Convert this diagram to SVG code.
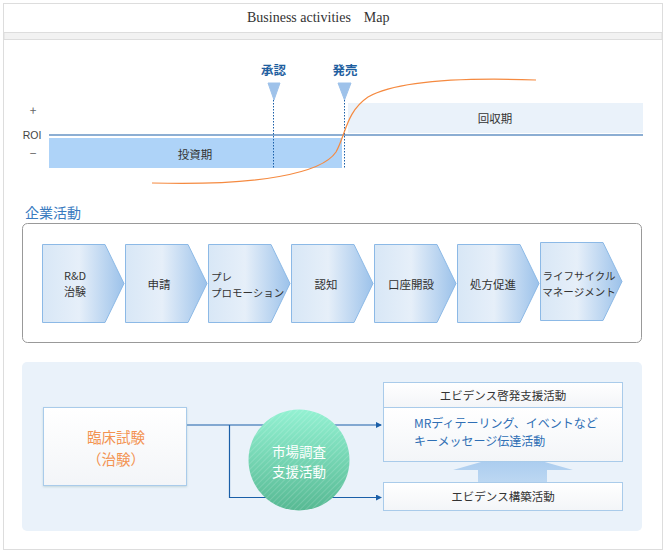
<svg xmlns="http://www.w3.org/2000/svg" width="667" height="554" viewBox="0 0 667 554">
<style>
.jp{font-family:"Noto Sans CJK JP","Noto Sans",sans-serif}
.lbl{font-size:11.5px;fill:#333}
.sm{font-size:10.5px;fill:#333}
.chev{stroke:#8cb9e6;stroke-width:1;fill:url(#chevGrad)}
.box{fill:url(#boxGrad);stroke:#a9cbea;stroke-width:1}
.conn{stroke:#1a5fa8;stroke-width:1.2;fill:none}
.dot{stroke:#1a5fa8;stroke-width:1;stroke-dasharray:1.5 1.5}
.tri{fill:#9ec2ea;stroke:#9ec2ea}
.ms{font-size:12.5px;font-weight:bold;fill:#1f5fa0}
</style>
<defs>
<linearGradient id="chevGrad" x1="0" y1="0" x2="1" y2="0">
<stop offset="0" stop-color="#d8e7f6"/>
<stop offset="0.45" stop-color="#e6eff9"/>
<stop offset="1" stop-color="#9cc2ea"/>
</linearGradient>
<linearGradient id="boxGrad" x1="0" y1="0" x2="0" y2="1">
<stop offset="0" stop-color="#ffffff"/>
<stop offset="1" stop-color="#f3f5f8"/>
</linearGradient>
<linearGradient id="circGrad" x1="0" y1="0" x2="0" y2="1">
<stop offset="0" stop-color="#93f1d2"/>
<stop offset="1" stop-color="#57b993"/>
</linearGradient>
<linearGradient id="upGrad" x1="0" y1="0" x2="0" y2="1">
<stop offset="0" stop-color="#a5c9ee"/>
<stop offset="1" stop-color="#bcd7f2"/>
</linearGradient>
<pattern id="hatch" width="4" height="4" patternUnits="userSpaceOnUse" patternTransform="rotate(45)">
<line x1="0" y1="0" x2="0" y2="4" stroke="#ffffff" stroke-opacity="0.25" stroke-width="1.2"/>
</pattern>
<filter id="shadow" x="-10%" y="-10%" width="120%" height="130%">
<feDropShadow dx="0" dy="1" stdDeviation="1.2" flood-color="#8aa" flood-opacity="0.4"/>
</filter>
<marker id="arr" markerWidth="6" markerHeight="6" refX="5" refY="3" orient="auto" markerUnits="userSpaceOnUse">
<path d="M0,0 L6,3 L0,6 Z" fill="#1a5fa8"/>
</marker>
</defs>

<!-- frame -->
<rect x="0" y="0" width="667" height="554" fill="#ffffff"/>
<rect x="3.5" y="3.5" width="659" height="546" fill="#ffffff" stroke="#dddddd"/>
<rect x="4" y="32.5" width="658" height="7" fill="#f2f2f2" stroke="#dddddd"/>
<text x="247" y="22" font-family="Liberation Serif,serif" font-size="14" fill="#333">Business activities<tspan dx="13">Map</tspan></text>

<!-- ROI chart -->
<g id="chart">
<text x="33" y="115" class="jp" font-size="12" fill="#666" text-anchor="middle">+</text>
<text x="32" y="139" font-family="Liberation Sans,sans-serif" font-size="10.5" fill="#444" text-anchor="middle">ROI</text>
<text x="33" y="158" class="jp" font-size="12" fill="#666" text-anchor="middle">−</text>
<rect x="49" y="138" width="293" height="30" fill="#aed3f8"/>
<text x="195" y="159" class="jp lbl" text-anchor="middle">投資期</text>
<rect x="348" y="103" width="295" height="30" fill="#eaf2fa"/>
<text x="495" y="123" class="jp lbl" text-anchor="middle">回収期</text>
<line x1="49" y1="135" x2="643" y2="135" stroke="#1a5fa8" stroke-width="1.2"/>
<line x1="273.5" y1="100" x2="273.5" y2="168" class="dot"/>
<line x1="344.5" y1="100" x2="344.5" y2="168" class="dot"/>
<path d="M152,183 C260,186 322,173 336,152 C346,134 346,112 368,97 C395,82 450,77 536,80" fill="none" stroke="#f58a40" stroke-width="1.2"/>
</g>
<g id="milestone-approval">
<text x="273.5" y="75" class="jp ms" text-anchor="middle">承認</text>
<path d="M268,83 L280,83 L274,100 Z" class="tri"/>
</g>
<g id="milestone-launch">
<text x="345" y="75" class="jp ms" text-anchor="middle">発売</text>
<path d="M338,83 L351,83 L344.5,100 Z" class="tri"/>
</g>

<!-- 企業活動 -->
<text x="25" y="218" class="jp" font-size="14" fill="#3a7bbf">企業活動</text>
<rect x="22.5" y="223.5" width="619" height="119" rx="5" fill="#ffffff" stroke="#999999"/>

<g id="c1"><path d="M42.5,244.5 H105 L124,283.5 L105,322.5 H42.5 Z" class="chev"/>
<text x="75" y="280" class="jp" font-size="11" fill="#333" text-anchor="middle">R&amp;D</text>
<text x="75" y="296" class="jp" font-size="11" fill="#333" text-anchor="middle">治験</text></g>
<g id="c2"><path d="M125.5,244.5 H188 L207,283.5 L188,322.5 H125.5 Z" class="chev"/>
<text x="159" y="289" class="jp lbl" text-anchor="middle">申請</text></g>
<g id="c3"><path d="M208.5,244.5 H271 L290,283.5 L271,322.5 H208.5 Z" class="chev"/>
<text x="211" y="281" class="jp sm">プレ</text>
<text x="211" y="296.5" class="jp sm">プロモーション</text></g>
<g id="c4"><path d="M291.5,244.5 H354 L373,283.5 L354,322.5 H291.5 Z" class="chev"/>
<text x="326" y="289" class="jp lbl" text-anchor="middle">認知</text></g>
<g id="c5"><path d="M374.5,244.5 H437 L456,283.5 L437,322.5 H374.5 Z" class="chev"/>
<text x="411" y="289" class="jp lbl" text-anchor="middle">口座開設</text></g>
<g id="c6"><path d="M457.5,244.5 H520 L539,283.5 L520,322.5 H457.5 Z" class="chev"/>
<text x="493" y="289" class="jp lbl" text-anchor="middle">処方促進</text></g>
<g id="c7"><path d="M540.5,242.5 H603 L622,281.5 L603,320.5 H540.5 Z" class="chev"/>
<text x="579" y="280" class="jp sm" text-anchor="middle">ライフサイクル</text>
<text x="579" y="295.5" class="jp sm" text-anchor="middle">マネージメント</text></g>

<!-- bottom section -->
<rect x="22" y="362" width="620" height="169" rx="5" fill="#eaf2fa"/>

<g id="connectors">
<path d="M187,425 H381" class="conn" marker-end="url(#arr)"/>
<path d="M229.5,425 V497.5 H381" class="conn" marker-end="url(#arr)"/>
</g>

<g id="clinical">
<rect x="43.5" y="407.5" width="143" height="78" class="box" stroke="#b5d2f0" filter="url(#shadow)"/>
<text x="116" y="443" class="jp" font-size="14.5" fill="#f39352" text-anchor="middle">臨床試験</text>
<text x="116" y="465" class="jp" font-size="14.5" fill="#f39352" text-anchor="middle">（治験）</text>
</g>

<g id="market">
<circle cx="299" cy="460" r="50.5" fill="url(#circGrad)"/>
<circle cx="299" cy="460" r="50.5" fill="url(#hatch)"/>
<text x="299" y="457" class="jp" font-size="13.5" fill="#ffffff" text-anchor="middle">市場調査</text>
<text x="299" y="477" class="jp" font-size="13.5" fill="#ffffff" text-anchor="middle">支援活動</text>
</g>

<g id="uparrow">
<path d="M478,482 V470 H453 L513,453 L573,470 H547 V482 Z" fill="url(#upGrad)"/>
</g>

<g id="ev-kei">
<rect x="383.5" y="382.5" width="239" height="25" class="box"/>
<text x="503" y="400" class="jp" font-size="11.5" fill="#333" text-anchor="middle">エビデンス啓発支援活動</text>
</g>
<g id="mr">
<rect x="383.5" y="407.5" width="239" height="54" class="box"/>
<text x="414" y="428" class="jp" font-size="12" fill="#2f6fb5">MRディテーリング、イベントなど</text>
<text x="414" y="446" class="jp" font-size="12" fill="#2f6fb5">キーメッセージ伝達活動</text>
</g>
<g id="ev-build">
<rect x="383.5" y="482.5" width="239" height="28" class="box"/>
<text x="503" y="501" class="jp" font-size="11.5" fill="#333" text-anchor="middle">エビデンス構築活動</text>
</g>
</svg>
